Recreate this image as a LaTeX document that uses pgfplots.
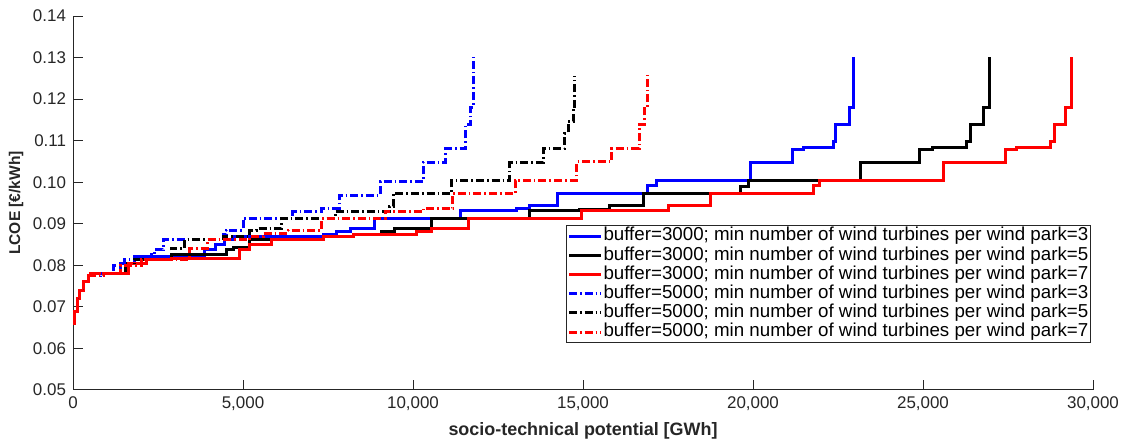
\documentclass[border=0pt]{standalone}
\usepackage{fontspec}
\setmainfont{Liberation Sans}
\usepackage{pgfplots}
\pgfplotsset{compat=1.18}
\definecolor{axgray}{RGB}{38,38,38}
\definecolor{mblue}{RGB}{0,0,255}
\definecolor{mred}{RGB}{255,0,0}
\begin{document}
\begin{tikzpicture}
\begin{axis}[
  scale only axis, width=510bp, height=187bp,
  xmin=0, xmax=30000, ymin=0.05, ymax=0.14,
  axis x line*=bottom, axis y line*=left,
  axis line style={-, draw=axgray, line width=0.5pt},
  tick align=inside, major tick length=5bp,
  tick style={axgray, line width=0.5pt},
  xtick={0,5000,10000,15000,20000,25000,30000},
  ytick={0.05,0.06,0.07,0.08,0.09,0.10,0.11,0.12,0.13,0.14},
  scaled x ticks=false, scaled y ticks=false,
  /pgf/number format/assume math mode=true,
  x tick label style={/pgf/number format/.cd, 1000 sep={,}},
  y tick label style={/pgf/number format/.cd, fixed, fixed zerofill, precision=2},
  tick label style={font=\fontsize{8.5}{10}\selectfont, text=axgray},
  xlabel style={font=\fontsize{9}{10}\selectfont\bfseries, text=axgray, yshift=1bp},
  ylabel style={font=\fontsize{7.8}{9}\selectfont\bfseries, text=axgray},
  ylabel shift=-2bp,
  xlabel={socio-technical potential [GWh]},
  ylabel={LCOE [€/kWh]},
  legend style={at={(0.998,0.125)}, anchor=south east,
    font=\fontsize{9.4}{10}\selectfont, draw=axgray, line width=0.4pt,
    inner sep=0.6bp, row sep=0bp,
    nodes={inner sep=0.5bp, text height=6.7bp, text depth=1.9bp}},
  legend cell align=left,
  legend image code/.code={\draw[#1] (0bp,0bp) -- (16bp,0bp);},
]
\coordinate (SW) at (rel axis cs:0,0);
\coordinate (NE) at (rel axis cs:1,1);
% buffer=3000, min 3
\addplot[mblue, line width=1.5bp, const plot] coordinates {(0,0.066)(50,0.069)(120,0.072)(200,0.074)(300,0.076)(450,0.0775)(600,0.078)(1400,0.0805)(1800,0.0821)(3880,0.0837)(4180,0.0849)(4470,0.0861)(4700,0.0869)(7360,0.0873)(7740,0.0881)(8150,0.0889)(8880,0.0913)(11400,0.0931)(13050,0.0937)(13440,0.0943)(14240,0.0973)(16900,0.0991)(17170,0.1005)(19940,0.1047)(21160,0.1079)(21480,0.1083)(22380,0.1097)(22430,0.114)(22850,0.1179)(22950,0.1302)};
\addlegendentry{buffer=3000; min number of wind turbines per wind park=3}
% buffer=3000, min 5
\addplot[black, line width=1.5bp, const plot] coordinates {(0,0.066)(50,0.069)(120,0.072)(200,0.074)(300,0.076)(450,0.0775)(600,0.078)(1550,0.0805)(2000,0.0813)(2900,0.0827)(4520,0.0837)(4720,0.0842)(5200,0.0861)(7360,0.0869)(8240,0.0873)(9080,0.0881)(9470,0.0889)(10550,0.0913)(13440,0.0931)(14910,0.0935)(15790,0.0943)(16770,0.0973)(19640,0.0989)(19860,0.1004)(20790,0.1005)(23150,0.1047)(24910,0.1079)(25270,0.1083)(26280,0.1097)(26400,0.114)(26770,0.1179)(26950,0.1302)};
\addlegendentry{buffer=3000; min number of wind turbines per wind park=5}
% buffer=3000, min 7
\addplot[mred, line width=1.5bp, const plot] coordinates {(0,0.066)(50,0.069)(120,0.072)(200,0.074)(300,0.076)(450,0.0775)(500,0.0781)(1630,0.0805)(2170,0.0813)(2900,0.0817)(4910,0.0837)(5200,0.0849)(5840,0.0861)(7360,0.0869)(8240,0.0873)(10100,0.0881)(10550,0.0889)(11630,0.0913)(14960,0.0933)(17500,0.0943)(18740,0.0973)(21770,0.0991)(21970,0.1004)(25600,0.1047)(27440,0.1079)(27750,0.1083)(28740,0.1097)(28860,0.114)(29180,0.1179)(29370,0.1302)};
\addlegendentry{buffer=3000; min number of wind turbines per wind park=7}
% buffer=5000, min 3
\addplot[mblue, line width=1.5bp, const plot, dash pattern=on 4bp off 1.5bp on 0.8bp off 1.5bp] coordinates {(0,0.066)(50,0.069)(120,0.072)(200,0.074)(300,0.076)(450,0.0775)(800,0.078)(1200,0.080)(1500,0.0815)(2300,0.0825)(2410,0.0837)(2660,0.0861)(4420,0.0873)(4500,0.0885)(5000,0.0913)(6470,0.0929)(7310,0.0937)(7830,0.0969)(9050,0.1001)(10300,0.1048)(10960,0.1081)(11530,0.1138)(11700,0.118)(11780,0.1302)};
\addlegendentry{buffer=5000; min number of wind turbines per wind park=3}
% buffer=5000, min 5
\addplot[black, line width=1.5bp, const plot, dash pattern=on 4bp off 1.5bp on 0.8bp off 1.5bp] coordinates {(0,0.066)(50,0.069)(120,0.072)(200,0.074)(300,0.076)(450,0.0775)(900,0.078)(1400,0.080)(1800,0.0815)(2900,0.0841)(3290,0.0861)(4420,0.0869)(5200,0.0885)(5400,0.0889)(6140,0.0913)(7710,0.0929)(9300,0.0941)(9420,0.0973)(11140,0.1004)(12850,0.1048)(13830,0.1081)(14470,0.1118)(14570,0.1146)(14710,0.1178)(14760,0.1256)};
\addlegendentry{buffer=5000; min number of wind turbines per wind park=5}
% buffer=5000, min 7
\addplot[mred, line width=1.5bp, const plot, dash pattern=on 4bp off 1.5bp on 0.8bp off 1.5bp] coordinates {(0,0.066)(50,0.069)(120,0.072)(200,0.074)(300,0.076)(450,0.0775)(900,0.078)(1400,0.080)(2000,0.0815)(3440,0.0841)(3950,0.0861)(5200,0.0869)(5600,0.0877)(6330,0.0885)(7310,0.0913)(9180,0.0929)(10300,0.0937)(11170,0.0973)(13000,0.1004)(14810,0.1049)(15840,0.1081)(16650,0.1138)(16820,0.1178)(16890,0.1258)};
\addlegendentry{buffer=5000; min number of wind turbines per wind park=7}
\end{axis}
\pgfresetboundingbox
\path ([shift={(-36.5bp,-25.5bp)}]SW) rectangle ([shift={(16.5bp,8bp)}]NE);
\end{tikzpicture}
\end{document}
